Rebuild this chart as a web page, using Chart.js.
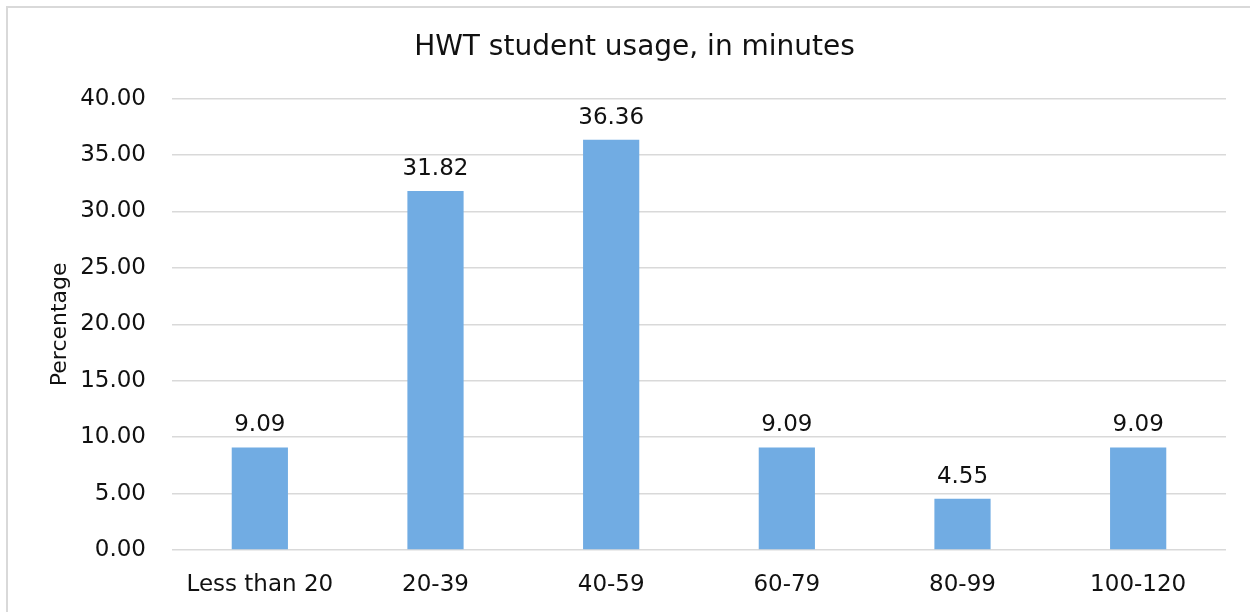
<!DOCTYPE html>
<html>
<head>
<meta charset="utf-8">
<script src="https://cdn.jsdelivr.net/npm/chart.js@4"></script>
<style>
  html, body { margin: 0; padding: 0; background: #fff; overflow: hidden; }
  #wrap { position: relative; width: 1250px; height: 612px; }
</style>
</head>
<body>
<div id="wrap"><canvas id="usageChart"></canvas></div>
<script>
// data
const categories = ['Less than 20', '20-39', '40-59', '60-79', '80-99', '100-120'];
const percentages = [9.09, 31.82, 36.36, 9.09, 4.55, 9.09];
const yTicksMin = 0;
const yTicksMax = 40;
const yTicksStep = 5;

const FONT = '"DejaVu Sans", Verdana, sans-serif';
const TEXT = '#111';

// light grey frame on top and left edge, like the pasted excel chart
const framePlugin = {
    id: 'frame',
    beforeDraw(chart) {
        const c = chart.ctx;
        c.save();
        c.fillStyle = '#fff'; c.fillRect(0, 0, chart.width, chart.height);
        c.fillStyle = '#d9d9d9';
        c.fillRect(6, 6, 2, chart.height);
        c.fillRect(6, 6, chart.width, 2);
        c.restore();
    }
};

// values written above each bar
const valueLabels = {
    id: 'valueLabels',
    afterDatasetsDraw(chart) {
        const c = chart.ctx;
        const meta = chart.getDatasetMeta(0);
        c.save();
        c.font = '23px ' + FONT; c.fillStyle = TEXT;
        c.textAlign = 'center'; c.textBaseline = 'alphabetic';
        meta.data.forEach((bar, i) => {
            c.fillText(percentages[i].toFixed(2), bar.x, bar.y - 16);
        });
        c.restore();
    }
};

new Chart(document.getElementById('usageChart'), {
    type: 'bar',
    data: {
        labels: categories,
        datasets: [{
            data: percentages,
            backgroundColor: '#71ace3',
            borderWidth: 0,
            categoryPercentage: 1,
            barPercentage: 0.32
        }]
    },
    options: {
        responsive: true,
        maintainAspectRatio: false,
        animation: false,
        layout: { padding: { left: 43, right: 24, top: 10, bottom: 0 } },
        plugins: {
            legend: { display: false },
            tooltip: { enabled: false },
            title: {
                display: true,
                text: 'HWT student usage, in minutes',
                color: TEXT,
                font: { family: FONT, size: 28, weight: 'normal' },
                padding: { top: 21, bottom: 34 }
            }
        },
        scales: {
            x: {
                grid: { display: false, drawTicks: false },
                border: { display: false },
                ticks: { color: TEXT, font: { family: FONT, size: 23 }, padding: 21, maxRotation: 0 },
                afterFit(scale) { scale.height = 62; }
            },
            y: {
                min: yTicksMin,
                max: yTicksMax,
                grid: { color: '#d9d9d9', lineWidth: 1.5, drawTicks: false },
                border: { display: false },
                ticks: {
                    stepSize: yTicksStep,
                    color: TEXT,
                    padding: 26,
                    font: { family: FONT, size: 23 },
                    callback: v => Number(v).toFixed(2)
                },
                title: {
                    display: true,
                    text: 'Percentage',
                    color: TEXT,
                    font: { family: FONT, size: 22 },
                    padding: { top: 4, bottom: 0 }
                },
                afterFit(scale) { scale.width = 172 - 43; }
            }
        }
    },
    plugins: [framePlugin, valueLabels]
});
</script>
</body>
</html>
